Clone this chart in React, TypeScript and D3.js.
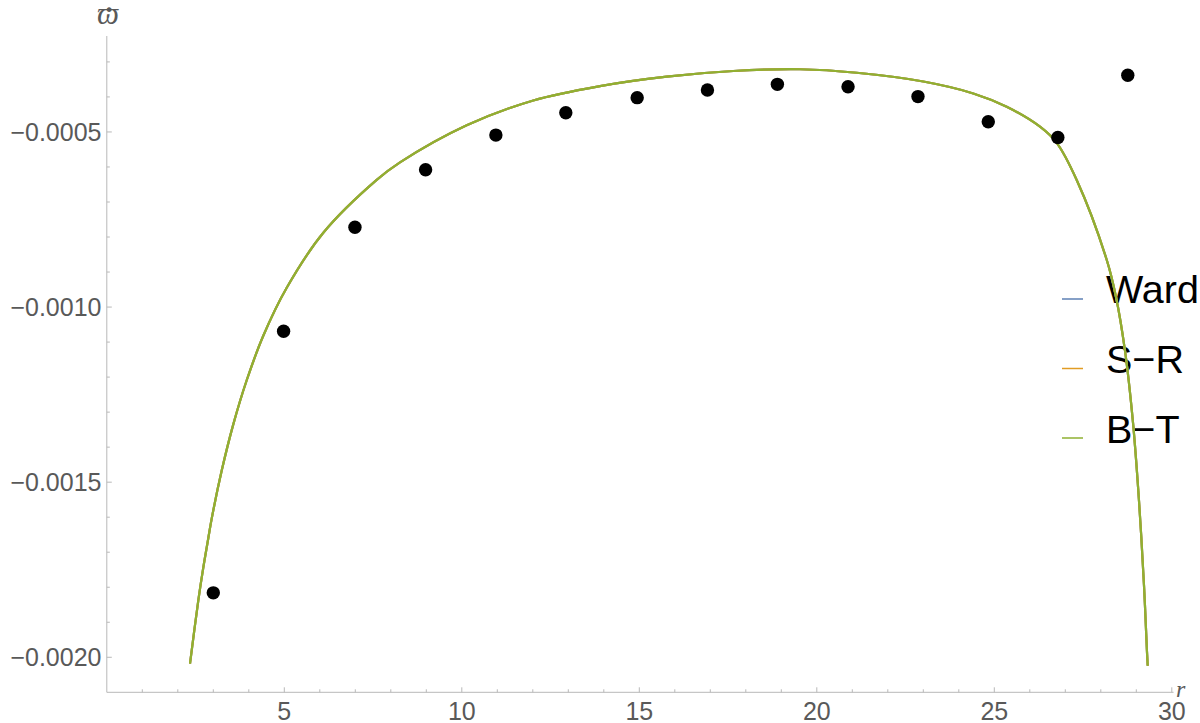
import React from 'react';
import * as d3 from 'd3';

const W = 1200;
const H = 723;

// Theory curves (Ward, S−R and B−T coincide in the picture)
const curveR = [2.344, 2.577, 2.718, 2.859, 2.955, 3.237, 3.563, 3.941, 4.408, 5.068, 6.099, 7.603, 8.259, 10.138, 12.014, 13.893, 15.772, 17.648, 19.527, 21.124, 23.0, 24.408, 25.349, 26.287, 26.758, 27.321, 28.166, 28.428, 28.682, 28.907, 29.076, 29.217, 29.301, 29.321];
const curveV = [-0.002018, -0.001838, -0.001744, -0.00166, -0.001604, -0.001467, -0.001335, -0.001209, -0.001082, -0.000945, -0.000788, -0.000637, -0.000587, -0.000481, -0.00041, -0.000369, -0.000342, -0.000326, -0.000321, -0.000331, -0.000356, -0.00039, -0.000428, -0.000485, -0.000531, -0.000637, -0.000865, -0.000971, -0.001125, -0.00133, -0.001553, -0.001795, -0.001984, -0.002024];

// Measured points
const dotR = [3.0, 4.98, 6.99, 8.98, 10.96, 12.93, 14.94, 16.92, 18.89, 20.88, 22.85, 24.83, 26.79, 28.76];
const dotV = [-0.001816, -0.001069, -0.000772, -0.000608, -0.000509, -0.000445, -0.000402, -0.00038, -0.000364, -0.000371, -0.000399, -0.000471, -0.000516, -0.000338];

const seriesNames = ['Ward', 'S\u2212R', 'B\u2212T'];
const seriesColors = ['#5E81B5', '#E19C24', '#8FB032'];

const xMajorTicks = [5, 10, 15, 20, 25, 30];
const xTickLabels = ['5', '10', '15', '20', '25', '30'];
const yMajorTicks = [-0.0005, -0.001, -0.0015, -0.002];
const yTickLabels = ['\u22120.0005', '\u22120.0010', '\u22120.0015', '\u22120.0020'];

export default function App() {
  const x = d3.scaleLinear().domain([0, 30]).range([106.8, 1171.8]);
  const y = d3.scaleLinear().domain([-0.0021, -0.000226]).range([692.3, 36]);
  const axisColor = '#b8b8b8';
  const labelColor = '#595959';
  const font = '"Liberation Sans", Arial, sans-serif';
  const serif = '"Liberation Serif", "DejaVu Serif", serif';

  const xMinor = d3.range(1, 31).filter((v) => v % 5 !== 0);
  const yMinor = d3.range(3, 21).filter((k) => k % 5 !== 0).map((k) => -k * 0.0001);

  const pts: [number, number][] = curveR.map((r, i) => [r, curveV[i]]);
  const line = d3
    .line<[number, number]>()
    .x((d) => x(d[0]))
    .y((d) => y(d[1]))
    .curve(d3.curveCatmullRom.alpha(0.5));
  const path = line(pts) || '';

  const x0 = x(0);
  const yAxis = y(-0.0021);

  return (
    <svg
      width={W}
      height={H}
      style={{ position: 'absolute', left: 0, top: 0, display: 'block', background: '#fff' }}
    >
      <rect x={0} y={0} width={W} height={H} fill="#fff" />
      {/* axes */}
      <line x1={x0} x2={x(30.05)} y1={yAxis} y2={yAxis} stroke={axisColor} strokeWidth={1} />
      <line x1={x0} x2={x0} y1={36} y2={yAxis} stroke={axisColor} strokeWidth={1} />
      {xMinor.map((v) => (
        <line key={'xm' + v} x1={x(v)} x2={x(v)} y1={yAxis} y2={yAxis - 3} stroke={axisColor} />
      ))}
      {xMajorTicks.map((v, i) => (
        <g key={'xM' + v}>
          <line x1={x(v)} x2={x(v)} y1={yAxis} y2={yAxis - 5} stroke={axisColor} />
          <text x={x(v)} y={720} textAnchor="middle" fontFamily={font} fontSize={25} fill={labelColor}>
            {xTickLabels[i]}
          </text>
        </g>
      ))}
      {yMinor.map((v) => (
        <line key={'ym' + v} x1={x0} x2={x0 + 3} y1={y(v)} y2={y(v)} stroke={axisColor} />
      ))}
      {yMajorTicks.map((v, i) => (
        <g key={'yM' + v}>
          <line x1={x0} x2={x0 + 5} y1={y(v)} y2={y(v)} stroke={axisColor} />
          <text
            x={101.5}
            y={y(v)}
            dy="0.35em"
            textAnchor="end"
            fontFamily={font}
            fontSize={25}
            fill={labelColor}
          >
            {yTickLabels[i]}
          </text>
        </g>
      ))}
      {/* axis labels */}
      <text x={108} y={24} textAnchor="middle" fontFamily={serif} fontStyle="italic" fontSize={31} fill={labelColor}>
        {'\u03D6'}
        <tspan x={109} y={29} fontStyle="normal" fontWeight="bold" fontSize={32}>
          {'\u02D9'}
        </tspan>
      </text>
      <text x={1176} y={697} fontFamily={serif} fontStyle="italic" fontSize={24} fill={labelColor}>
        r
      </text>

      {/* legend */}
      {seriesNames.map((name, i) => (
        <g key={name}>
          <line
            x1={1062}
            x2={1083}
            y1={299 + i * 69.5}
            y2={299 + i * 69.5}
            stroke={seriesColors[i]}
            strokeWidth={1.5}
          />
          <text x={1106} y={303 + i * 70} fontFamily={font} fontSize={39.5} fill="#000">
            {name}
          </text>
        </g>
      ))}

      {/* curves */}
      {seriesNames.map((name, i) => (
        <path key={'c' + name} d={path} fill="none" stroke={seriesColors[i]} strokeWidth={2.2} />
      ))}

      {/* points */}
      {dotR.map((r, i) => (
        <circle key={'d' + r} cx={x(r)} cy={y(dotV[i])} r={6.7} fill="#000" />
      ))}
    </svg>
  );
}
